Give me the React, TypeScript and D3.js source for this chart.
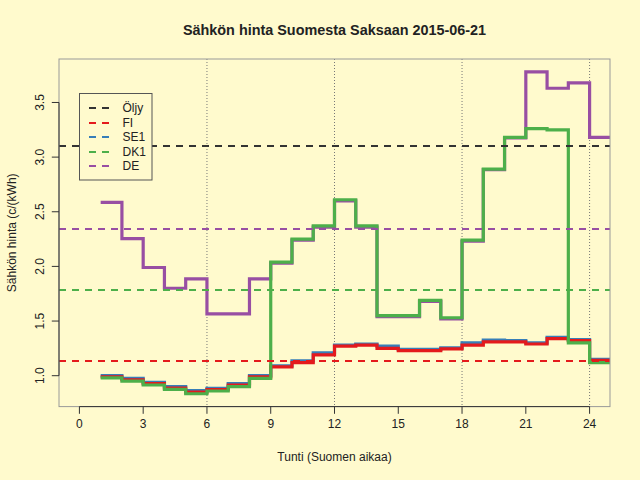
import React, { useRef, useEffect } from 'react';
import * as d3 from 'd3';

// Hour of day (Finnish time), hourly prices in c/kWh
const hours = [1, 2, 3, 4, 5, 6, 7, 8, 9, 10, 11, 12, 13, 14, 15, 16, 17, 18, 19, 20, 21, 22, 23, 24];

const fiPrice = [0.99, 0.963, 0.927, 0.887, 0.85, 0.872, 0.915, 0.99, 1.08, 1.12, 1.19, 1.27,
  1.28, 1.25, 1.23, 1.23, 1.245, 1.28, 1.31, 1.31, 1.29, 1.34, 1.32, 1.14];
const se1Price = [1.0, 0.975, 0.94, 0.9, 0.863, 0.884, 0.927, 1.0, 1.09, 1.135, 1.21, 1.28,
  1.29, 1.27, 1.24, 1.24, 1.255, 1.3, 1.325, 1.32, 1.3, 1.35, 1.33, 1.15];
const dk1Price = [0.98, 0.95, 0.915, 0.875, 0.835, 0.86, 0.9, 0.975, 2.04, 2.25, 2.37, 2.61,
  2.37, 1.55, 1.55, 1.69, 1.53, 2.24, 2.89, 3.18, 3.26, 3.25, 1.3, 1.12];
const dePrice = [2.585, 2.255, 1.99, 1.8, 1.885, 1.566, 1.566, 1.885, 2.03, 2.24, 2.36, 2.6,
  2.36, 1.54, 1.54, 1.68, 1.52, 2.23, 2.885, 3.175, 3.78, 3.63, 3.68, 3.18];

// Reference levels (dashed horizontal lines)
const levelNames = ['Öljy', 'FI', 'SE1', 'DK1', 'DE'];
const levelValues = [3.1, 1.13, 1.13, 1.78, 2.345];
const levelColors = ['#333333', '#E41A1C', '#377EB8', '#4DAF4A', '#984EA3'];

const xTicks = [0, 3, 6, 9, 12, 15, 18, 21, 24];
const yTicks = [1.0, 1.5, 2.0, 2.5, 3.0, 3.5];
const gridHours = [6, 12, 18, 24];

const W = 640;
const H = 480;
const FONT = '"Liberation Sans", Arial, Helvetica, sans-serif';

const App: React.FC = () => {
  const svgRef = useRef<SVGSVGElement>(null);

  useEffect(() => {
    d3.select(svgRef.current).selectAll('*').remove();
    const svg = d3.select(svgRef.current).attr('width', W).attr('height', H);

    const left = 59, right = 610, top = 59, bottom = 406.6;

    svg.append('rect').attr('width', W).attr('height', H).attr('fill', '#FFFACD');

    // R-style 4% range extension
    const ext = (lo: number, hi: number): [number, number] => {
      const d = (hi - lo) * 0.04;
      return [lo - d, hi + d];
    };
    const x = d3.scaleLinear().domain(ext(0, 24)).range([left, right]);
    const allVals = [...fiPrice, ...se1Price, ...dk1Price, ...dePrice];
    const y = d3.scaleLinear()
      .domain(ext(d3.min(allVals)!, d3.max(allVals)!))
      .range([bottom, top]);

    svg.append('clipPath').attr('id', 'plotclip')
      .append('rect').attr('x', left).attr('y', top)
      .attr('width', right - left).attr('height', bottom - top);

    const plot = svg.append('g').attr('clip-path', 'url(#plotclip)');

    // dotted verticals
    plot.selectAll('line.grid').data(gridHours).enter().append('line')
      .attr('x1', d => x(d)).attr('x2', d => x(d))
      .attr('y1', top).attr('y2', bottom)
      .attr('stroke', '#777').attr('stroke-width', 1)
      .attr('stroke-dasharray', '1,2');

    // step series, drawn DE, SE1, FI, DK1
    const series = [
      { vals: dePrice, color: levelColors[4] },
      { vals: se1Price, color: levelColors[2] },
      { vals: fiPrice, color: levelColors[1] },
      { vals: dk1Price, color: levelColors[3] },
    ];
    const line = d3.line<[number, number]>()
      .x(d => x(d[0])).y(d => y(d[1]))
      .curve(d3.curveStepAfter);
    series.forEach(s => {
      const pts: [number, number][] = hours.map((h, i) => [h, s.vals[i]]);
      pts.push([hours[hours.length - 1] + 1, s.vals[s.vals.length - 1]]);
      plot.append('path')
        .attr('d', line(pts)!)
        .attr('fill', 'none')
        .attr('stroke', s.color)
        .attr('stroke-width', 3.2)
        .attr('stroke-linejoin', 'miter')
        .attr('stroke-linecap', 'butt');
    });

    // dashed levels, SE1 under FI
    const levelOrder = [0, 2, 1, 3, 4];
    levelOrder.forEach(i => {
      const ly = Math.round(y(levelValues[i]));
      plot.append('line')
        .attr('x1', left).attr('x2', right)
        .attr('y1', ly).attr('y2', ly)
        .attr('stroke', levelColors[i]).attr('stroke-width', 2)
        .attr('shape-rendering', 'crispEdges')
        .attr('stroke-dasharray', '7,6');
    });

    // box
    svg.append('rect').attr('x', left).attr('y', top)
      .attr('width', right - left).attr('height', bottom - top)
      .attr('fill', 'none').attr('stroke', '#999').attr('stroke-width', 1);

    // x axis
    const xa = svg.append('g').attr('transform', `translate(0,${bottom})`);
    xa.append('line').attr('x1', x(0)).attr('x2', x(24))
      .attr('stroke', '#333');
    xa.selectAll('line.t').data(xTicks).enter().append('line')
      .attr('x1', d => x(d)).attr('x2', d => x(d)).attr('y1', 0).attr('y2', 7.2)
      .attr('stroke', '#333');
    xa.selectAll('text').data(xTicks).enter().append('text')
      .attr('x', d => x(d)).attr('y', 21)
      .attr('text-anchor', 'middle')
      .attr('font-family', FONT).attr('font-size', 12).attr('fill', '#222')
      .text(d => String(d));

    // y axis
    const ya = svg.append('g').attr('transform', `translate(${left},0)`);
    ya.append('line').attr('y1', y(1)).attr('y2', y(3.5)).attr('stroke', '#333');
    ya.selectAll('line.t').data(yTicks).enter().append('line')
      .attr('y1', d => y(d)).attr('y2', d => y(d)).attr('x1', 0).attr('x2', -7.2)
      .attr('stroke', '#333');
    ya.selectAll('text').data(yTicks).enter().append('text')
      .attr('transform', d => `translate(-14.6,${y(d)}) rotate(-90)`)
      .attr('text-anchor', 'middle')
      .attr('font-family', FONT).attr('font-size', 12).attr('fill', '#222')
      .text(d => d.toFixed(1));

    // titles
    svg.append('text')
      .attr('x', (left + right) / 2).attr('y', 35)
      .attr('text-anchor', 'middle')
      .attr('font-family', FONT).attr('font-size', 14.4).attr('font-weight', 'bold')
      .attr('fill', '#222')
      .text('Sähkön hinta Suomesta Saksaan 2015-06-21');
    svg.append('text')
      .attr('x', (left + right) / 2).attr('y', 461)
      .attr('text-anchor', 'middle')
      .attr('font-family', FONT).attr('font-size', 12).attr('fill', '#222')
      .text('Tunti (Suomen aikaa)');
    svg.append('text')
      .attr('transform', `translate(16,${(top + bottom) / 2}) rotate(-90)`)
      .attr('text-anchor', 'middle')
      .attr('font-family', FONT).attr('font-size', 12).attr('fill', '#222')
      .text('Sähkön hinta (c/(kWh)');

    // legend
    const lg = svg.append('g');
    lg.append('rect').attr('x', 79.5).attr('y', 93.5).attr('width', 72.5).attr('height', 86.5)
      .attr('fill', '#FFFACD').attr('stroke', '#555').attr('stroke-width', 1);
    levelNames.forEach((name, i) => {
      const cy = Math.round(108.3 + i * 14.4);
      lg.append('line').attr('x1', 89).attr('x2', 110).attr('y1', cy).attr('y2', cy)
        .attr('stroke', levelColors[i]).attr('stroke-width', 2)
        .attr('shape-rendering', 'crispEdges')
        .attr('stroke-dasharray', '7,6');
      lg.append('text').attr('x', 122.5).attr('y', cy + 4.3)
        .attr('font-family', FONT).attr('font-size', 12).attr('fill', '#222')
        .text(name);
    });
  }, []);

  return (
    <div style={{ position: 'absolute', left: 0, top: 0 }}>
      <svg ref={svgRef} style={{ display: 'block' }}></svg>
    </div>
  );
};

export default App;
